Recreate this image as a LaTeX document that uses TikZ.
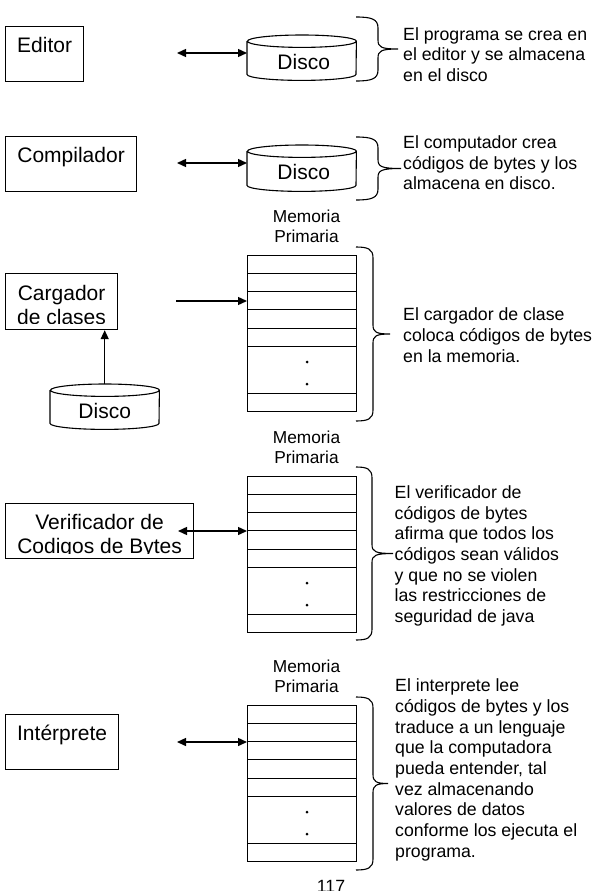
\documentclass[tikz,border=0pt]{standalone}
\usepackage{fontspec}
\setmainfont{Liberation Sans}
\usetikzlibrary{arrows.meta}

% Multi-line nodes below are placed by the baseline of their last line.
\tikzset{
  box/.style={draw, line width=1.2pt, inner sep=0pt, anchor=north west},
  boxtext/.style={font=\fontsize{21}{24.5}\selectfont, align=center, inner sep=0pt, anchor=base},
  disk/.style={inner sep=0pt, minimum width=109pt, minimum height=46pt, anchor=north west},
  disktext/.style={font=\fontsize{21}{24}\selectfont, inner sep=0pt, anchor=base},
  mem/.style={draw, line width=1pt, inner sep=0pt, minimum width=109pt, minimum height=156pt, anchor=north west},
  memlabel/.style={font=\fontsize{17.3}{19.7}\selectfont, align=center, inner sep=0pt, anchor=base},
  note/.style={font=\fontsize{17.7}{20.7}\selectfont, align=left, inner sep=0pt, anchor=base west},
  link/.style={line width=1.4pt, -{Triangle[length=9pt,width=8pt]}},
  dlink/.style={line width=1.4pt, {Triangle[length=9pt,width=8pt]}-{Triangle[length=9pt,width=8pt]}},
  brc/.style={line width=1.1pt},
}

% cylinder outline around a (text-less) disk node
\newcommand\diskoutline[1]{%
  \draw[line width=1.1pt] ([yshift=-6.2pt]#1.north west) -- ([yshift=6pt]#1.south west)
    arc[start angle=180, end angle=360, x radius=54.5pt, y radius=6pt]
    -- ([yshift=-6.2pt]#1.north east)
    arc[start angle=0, end angle=360, x radius=54.5pt, y radius=6.2pt];}

% memory column: name, top edge
\newcommand\memblock[2]{%
  \node[mem] (#1) at (247,#2) {};
  \foreach \k in {1,...,5}
    \draw[line width=1pt] ([yshift={-18.3*\k}]#1.north west) -- ([yshift={-18.3*\k}]#1.north east);
  \draw[line width=1pt] ([yshift=-138pt]#1.north west) -- ([yshift=-138pt]#1.north east);
  \fill ([xshift=5pt,yshift=-107pt]#1.north) circle[radius=1.5pt];
  \fill ([xshift=5pt,yshift=-129pt]#1.north) circle[radius=1.5pt];
  \node[memlabel] (#1l) at ([xshift=4.5pt,yshift=12.8pt]#1.north) {Memoria\\Primaria};}

% right-hand curly brace: x, top y, bottom y, spine offset, tip offset
\newcommand\curly[5]{%
  \draw[brc] (#1,#2) .. controls ({#1+0.7*#4},#2) and ({#1+#4},{#2+2}) .. ({#1+#4},{#2+11})
    -- ({#1+#4},{(#2+#3)/2-9})
    .. controls ({#1+#4},{(#2+#3)/2-2}) and ({#1+#4+3},{(#2+#3)/2}) .. ({#1+#5},{(#2+#3)/2})
    .. controls ({#1+#4+3},{(#2+#3)/2}) and ({#1+#4},{(#2+#3)/2+2}) .. ({#1+#4},{(#2+#3)/2+9})
    -- ({#1+#4},{#3-11})
    .. controls ({#1+#4},{#3-2}) and ({#1+0.7*#4},#3) .. (#1,#3);}

\begin{document}
\begin{tikzpicture}[x=1pt,y=-1pt]
  \useasboundingbox (0,0) rectangle (596,891);
  \clip (0,0) rectangle (596,891);
  \fill[white] (0,0) rectangle (596,891);

  % --- Editor ---
  \node[box, minimum width=78pt, minimum height=55pt] (ed) at (5,26) {};
  \node[boxtext] (edt) at ([yshift=-26.3pt]ed.north) {Editor};
  \node[disk, minimum height=45pt] (d1) at (247,35) {};
  \diskoutline{d1}
  \node[disktext] (d1t) at ([xshift=2pt,yshift=-34.3pt]d1.north) {Disco};
  \coordinate (a1) at (177,53);
  \draw[dlink] (a1) -- (a1 -| d1.west);
  \curly{356}{17}{81}{22}{42}
  \node[note] (t1) at (403,81.4) {El programa se crea en\\el editor y se almacena\\en el disco};

  % --- Compilador ---
  \node[box, minimum width=131pt, minimum height=55pt] (cp) at (5,136) {};
  \node[boxtext] (cpt) at ([yshift=-26.3pt]cp.north) {Compilador};
  \node[disk] (d2) at (247,145) {};
  \diskoutline{d2}
  \node[disktext] (d2t) at ([xshift=2pt,yshift=-34.8pt]d2.north) {Disco};
  \coordinate (a2) at (177,163);
  \draw[dlink] (a2) -- (a2 -| d2.west);
  \curly{356}{137}{200}{22}{45}
  \node[note] (t2) at (403,189.9) {El computador crea\\códigos de bytes y los\\almacena en disco.};

  % --- Cargador de clases ---
  \memblock{m3}{255}
  \node[box, minimum width=112pt, minimum height=56pt] (cg) at (5,273) {};
  \begin{scope}
    \clip (cg.north west) rectangle ([yshift=7pt]cg.south east);
    \node[boxtext] (cgt) at ([yshift=-51.5pt]cg.north) {Cargador\\de clases};
  \end{scope}
  \node[disk, minimum height=45pt] (d3) at (50,384) {};
  \diskoutline{d3}
  \node[disktext] (d3t) at ([yshift=-34.3pt]d3.north) {Disco};
  \draw[link] (d3.north) -- (d3.north |- cg.south);
  \coordinate (a3) at (176,301);
  \draw[link] (a3) -- (a3 -| m3.west);
  \curly{356}{247}{421}{17}{34}
  \node[note] (t3) at (403,362.1) {El cargador de clase\\coloca códigos de bytes\\en la memoria.};

  % --- Verificador de codigos de bytes ---
  \memblock{m4}{476}
  \node[box, minimum width=188pt, minimum height=55pt] (vf) at (5,503) {};
  \begin{scope}
    \clip (vf.north west) rectangle ([yshift=6pt]vf.south east);
    \node[boxtext] (vft) at ([yshift=-50.5pt]vf.north) {Verificador de\\Codigos de Bytes};
  \end{scope}
  \coordinate (a4) at (178,531);
  \draw[dlink] (a4) -- (a4 -| m4.west);
  \curly{356}{467}{640}{16}{37}
  \node[note] (t4) at (394.5,622.5) {El verificador de\\códigos de bytes\\afirma que todos los\\códigos sean válidos\\y que no se violen\\las restricciones de\\seguridad de java};

  % --- Interprete ---
  \memblock{m5}{705}
  \node[box, minimum width=113pt, minimum height=55pt] (ip) at (5,714) {};
  \node[boxtext] (ipt) at ([yshift=-26pt]ip.north) {Intérprete};
  \coordinate (a5) at (177,742);
  \draw[dlink] (a5) -- (a5 -| m5.west);
  \curly{356}{697}{870}{17}{32}
  \node[note] (t5) at (395,857.3) {El interprete lee\\códigos de bytes y los\\traduce a un lenguaje\\que la computadora\\pueda entender, tal\\vez almacenando\\valores de datos\\conforme los ejecuta el\\programa.};

  % page number
  \node[font=\fontsize{17.7}{20}\selectfont, inner sep=0pt, anchor=base] (pg) at (331,892) {117};
\end{tikzpicture}
\end{document}
